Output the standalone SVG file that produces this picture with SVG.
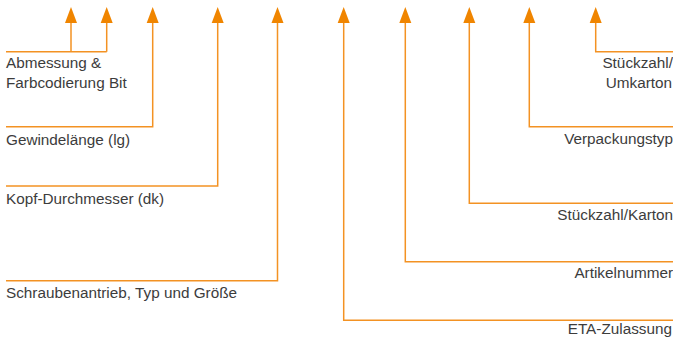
<svg xmlns="http://www.w3.org/2000/svg" width="673" height="338" viewBox="0 0 673 338">
<style>
.c{fill:none;stroke:#F39223;stroke-width:1.5}
.h{fill:#F08500}
.t{font-family:"Liberation Sans",Arial,sans-serif;font-size:15.3px;fill:#3c3c3c}
.r{text-anchor:end}
</style>
<defs>
<polygon id="ah" points="0,7 -6,23 6,23"/>
</defs>
<g id="connectors">
<path class="c" d="M6,51.7H106.7M71,23V51.7M106.7,23V51.7"/>
<path class="c" d="M6,126.7H152.7V23"/>
<path class="c" d="M6,186H217.7V23"/>
<path class="c" d="M6,280.7H277.5V23"/>
<path class="c" d="M673,320.3H343.7V23"/>
<path class="c" d="M673,261.7H405.3V23"/>
<path class="c" d="M673,203.3H469.3V23"/>
<path class="c" d="M673,126.7H529.3V23"/>
<path class="c" d="M673,51.7H595.7V23"/>
<g class="h">
<use href="#ah" x="71"/>
<use href="#ah" x="106.7"/>
<use href="#ah" x="152.7"/>
<use href="#ah" x="217.7"/>
<use href="#ah" x="277.5"/>
<use href="#ah" x="343.7"/>
<use href="#ah" x="405.3"/>
<use href="#ah" x="469.3"/>
<use href="#ah" x="529.3"/>
<use href="#ah" x="595.7"/>
</g>
</g>
<g id="n-abmessung"><text class="t" x="6" y="68">Abmessung &amp;</text><text class="t" x="6" y="88">Farbcodierung Bit</text></g>
<g id="n-gewinde"><text class="t" x="6" y="145">Gewindelänge (lg)</text></g>
<g id="n-kopf"><text class="t" x="6" y="204">Kopf-Durchmesser (dk)</text></g>
<g id="n-antrieb"><text class="t" x="6" y="298">Schraubenantrieb, Typ und Größe</text></g>
<g id="n-umkarton"><text class="t r" x="673" y="68">Stückzahl/</text><text class="t r" x="672" y="88">Umkarton</text></g>
<g id="n-verpackung"><text class="t r" x="673" y="144">Verpackungstyp</text></g>
<g id="n-karton"><text class="t r" x="673" y="220">Stückzahl/Karton</text></g>
<g id="n-artikel"><text class="t r" x="673" y="278">Artikelnummer</text></g>
<g id="n-eta"><text class="t r" x="672" y="334">ETA-Zulassung</text></g>
</svg>
